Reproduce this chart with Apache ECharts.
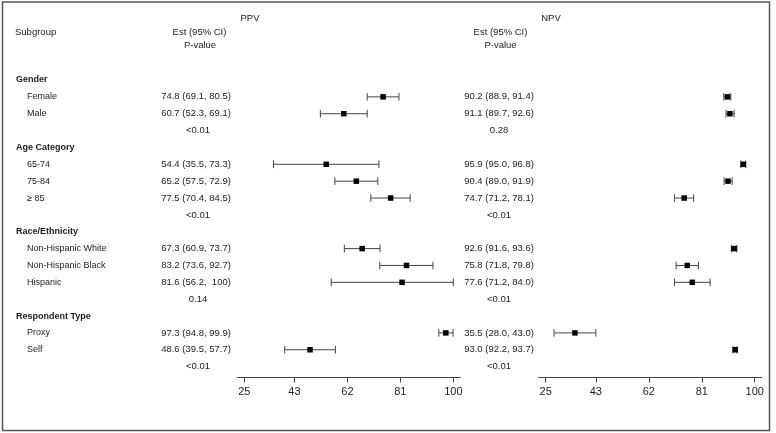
<!DOCTYPE html>
<html>
<head>
<meta charset="utf-8">
<script src="https://cdn.jsdelivr.net/npm/echarts@6/dist/echarts.min.js"></script>
<style>
html,body{margin:0;padding:0;background:#fff;}
#chart{width:776px;height:433px;}
</style>
</head>
<body>
<div id="chart"></div>
<script>
const groups = ['Gender', 'Age Category', 'Race/Ethnicity', 'Respondent Type'];
const subgroups = [
  ['Female', 'Male'],
  ['65-74', '75-84', '\u2265 85'],
  ['Non-Hispanic White', 'Non-Hispanic Black', 'Hispanic'],
  ['Proxy', 'Self']
];
const ppvEst  = [74.8, 60.7, 54.4, 65.2, 77.5, 67.3, 83.2, 81.6, 97.3, 48.6];
const ppvLow  = [69.1, 52.3, 35.5, 57.5, 70.4, 60.9, 73.6, 56.2, 94.8, 39.5];
const ppvHigh = [80.5, 69.1, 73.3, 72.9, 84.5, 73.7, 92.7, 100, 99.9, 57.7];
const ppvP = ['<0.01', '<0.01', '0.14', '<0.01'];
const npvEst  = [90.2, 91.1, 95.9, 90.4, 74.7, 92.6, 75.8, 77.6, 35.5, 93.0];
const npvLow  = [88.9, 89.7, 95.0, 89.0, 71.2, 91.6, 71.8, 71.2, 28.0, 92.2];
const npvHigh = [91.4, 92.6, 96.8, 91.9, 78.1, 93.6, 79.8, 84.0, 43.0, 93.7];
const npvP = ['0.28', '<0.01', '<0.01', '<0.01'];
const tickValues = [25, 43, 62, 81, 100];

const FONT = '"Liberation Sans", Arial, sans-serif';
const TXT = '#222';

function fmt(v) { return v === 100 ? ' 100' : v.toFixed(1); }
function estText(e, l, h) { return fmt(e) + ' (' + fmt(l) + ', ' + fmt(h) + ')'; }

// build rows
const tableData = [];   // [x, row, text, align, bold]
const ppvBars = [];     // [row, low, est, high]
const npvBars = [];
let row = 0, k = 0;
const colLabelGroup = 16, colLabelItem = 27, colPPV = 196, colNPV = 499;
groups.forEach(function (g, gi) {
  tableData.push([colLabelGroup, row, g, 'left', 1]);
  row++;
  subgroups[gi].forEach(function (s) {
    tableData.push([colLabelItem, row, s, 'left', 0]);
    tableData.push([colPPV, row, estText(ppvEst[k], ppvLow[k], ppvHigh[k]), 'center', 0]);
    tableData.push([colNPV, row, estText(npvEst[k], npvLow[k], npvHigh[k]), 'center', 0]);
    ppvBars.push([row, ppvLow[k], ppvEst[k], ppvHigh[k]]);
    npvBars.push([row, npvLow[k], npvEst[k], npvHigh[k]]);
    row++; k++;
  });
  tableData.push([colPPV + 2, row, ppvP[gi], 'center', 0]);
  tableData.push([colNPV, row, npvP[gi], 'center', 0]);
  row++;
});
const nRows = row; // 18

const rowH = 16.86;
const yMin = -1, yMax = 17.65;
const gTop = 80 - rowH;
const gHeight = (yMax - yMin) * rowH;

function barRender(params, api) {
  const r = api.value(0);
  const pl = api.coord([api.value(1), r]);
  const pe = api.coord([api.value(2), r]);
  const ph = api.coord([api.value(3), r]);
  const cap = 3.8, ms = 5.5;
  const ls = { stroke: '#444', lineWidth: 1 };
  return {
    type: 'group',
    children: [
      { type: 'line', shape: { x1: pl[0], y1: pl[1], x2: ph[0], y2: ph[1] }, style: ls },
      { type: 'line', shape: { x1: pl[0], y1: pl[1] - cap, x2: pl[0], y2: pl[1] + cap }, style: ls },
      { type: 'line', shape: { x1: ph[0], y1: ph[1] - cap, x2: ph[0], y2: ph[1] + cap }, style: ls },
      { type: 'rect', shape: { x: pe[0] - ms / 2, y: pe[1] - ms / 2, width: ms, height: ms }, style: { fill: '#000' } }
    ]
  };
}

function textRender(params, api) {
  const p = api.coord([api.value(0), api.value(1)]);
  const d = tableData[params.dataIndex];
  const bold = d[4] === 1;
  const isEst = d[3] === 'center';
  return {
    type: 'text',
    x: p[0], y: p[1],
    style: {
      text: d[2],
      textAlign: d[3],
      textVerticalAlign: 'middle',
      fill: TXT,
      font: (bold ? 'bold ' : '') + (isEst ? '9.5px ' : '9px ') + FONT
    }
  };
}

function xAxisFor(gi) {
  return {
    gridIndex: gi, type: 'value', min: 22.5, max: 102.5,
    axisLine: { show: true, onZero: false, lineStyle: { color: '#444', width: 1 } },
    axisTick: { show: true, length: 5, lineStyle: { color: '#444' }, customValues: tickValues },
    axisLabel: { show: true, margin: 9, fontSize: 11, color: TXT, fontFamily: FONT, customValues: tickValues },
    splitLine: { show: false }
  };
}
function yAxisFor(gi) {
  return { gridIndex: gi, type: 'value', min: yMin, max: yMax, inverse: true, show: false };
}

const chart = echarts.init(document.getElementById('chart'), null, { renderer: 'canvas' });
chart.setOption({
  animation: false,
  backgroundColor: '#fff',
  grid: [
    { left: 0, width: 776, top: gTop, height: gHeight },
    { left: 237.3, width: 223, top: gTop, height: gHeight },
    { left: 538.7, width: 223, top: gTop, height: gHeight }
  ],
  xAxis: [
    { gridIndex: 0, type: 'value', min: 0, max: 776, show: false },
    xAxisFor(1),
    xAxisFor(2)
  ],
  yAxis: [yAxisFor(0), yAxisFor(1), yAxisFor(2)],
  series: [
    { type: 'custom', xAxisIndex: 0, yAxisIndex: 0, renderItem: textRender, data: tableData.map(d => [d[0], d[1]]), clip: false, silent: true },
    { type: 'custom', xAxisIndex: 1, yAxisIndex: 1, renderItem: barRender, data: ppvBars, clip: false, silent: true },
    { type: 'custom', xAxisIndex: 2, yAxisIndex: 2, renderItem: barRender, data: npvBars, clip: false, silent: true }
  ],
  graphic: [
    { type: 'rect', shape: { x: 2.5, y: 2, width: 767, height: 428.5 }, style: { fill: null, stroke: '#555', lineWidth: 1.5 }, silent: true },
    { type: 'text', x: 250, y: 18, style: { text: 'PPV', textAlign: 'center', textVerticalAlign: 'middle', fill: TXT, font: '9.5px ' + FONT } },
    { type: 'text', x: 551, y: 18, style: { text: 'NPV', textAlign: 'center', textVerticalAlign: 'middle', fill: TXT, font: '9.5px ' + FONT } },
    { type: 'text', x: 15, y: 32, style: { text: 'Subgroup', textAlign: 'left', textVerticalAlign: 'middle', fill: TXT, font: '9.5px ' + FONT } },
    { type: 'text', x: 199.5, y: 32, style: { text: 'Est (95% CI)', textAlign: 'center', textVerticalAlign: 'middle', fill: TXT, font: '9.5px ' + FONT } },
    { type: 'text', x: 200, y: 45, style: { text: 'P-value', textAlign: 'center', textVerticalAlign: 'middle', fill: TXT, font: '9.5px ' + FONT } },
    { type: 'text', x: 500.5, y: 32, style: { text: 'Est (95% CI)', textAlign: 'center', textVerticalAlign: 'middle', fill: TXT, font: '9.5px ' + FONT } },
    { type: 'text', x: 500.5, y: 45, style: { text: 'P-value', textAlign: 'center', textVerticalAlign: 'middle', fill: TXT, font: '9.5px ' + FONT } }
  ]
});
</script>
</body>
</html>
